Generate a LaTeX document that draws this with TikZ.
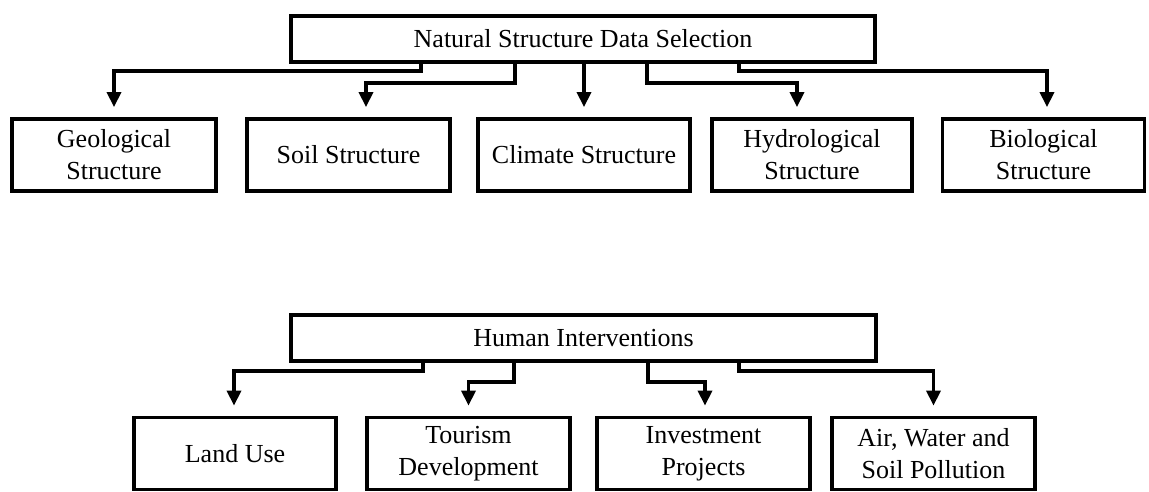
\documentclass[tikz,border=0pt]{standalone}
\usepackage{fontspec}
\setmainfont{Liberation Serif}
\usetikzlibrary{arrows.meta}
\begin{document}
\begin{tikzpicture}[x=1pt,y=-1pt,
  box/.style={draw=black, line width=3.8pt, inner sep=0pt, align=center,
    minimum height=72pt, font=\fontsize{26}{32}\selectfont},
  headbox/.style={box, minimum height=46pt},
  conn/.style={line width=3.5pt, -{Triangle[width=14pt,length=15pt]}, shorten >=10pt}]
\useasboundingbox (0,0) rectangle (1149,492);
% top tree
\node[headbox, minimum width=584pt] (nat) at (583,39) {Natural Structure Data Selection};
\node[box, minimum width=204pt] (geo) at (114,155) {Geological\\Structure};
\node[box, minimum width=203pt] (soil) at (348.5,155) {Soil Structure};
\node[box, minimum width=212pt] (cli) at (584,155) {Climate Structure};
\node[box, minimum width=200pt] (hyd) at (812,155) {Hydrological\\Structure};
\node[box, minimum width=202pt] (bio) at (1043.5,155) {Biological\\Structure};
\draw[conn] ([xshift=-162pt]nat.south) -- ++(0,7) -| (geo.north);
\draw[conn] ([xshift=-68pt]nat.south) -- ++(0,19) -| ([xshift=17.5pt]soil.north);
\draw[conn] (nat.south -| cli.north) -- (cli.north);
\draw[conn] ([xshift=64pt]nat.south) -- ++(0,19) -| ([xshift=-15pt]hyd.north);
\draw[conn] ([xshift=156pt]nat.south) -- ++(0,7) -| ([xshift=3.5pt]bio.north);
% bottom tree
\node[headbox, minimum width=585pt] (hum) at (583.5,338) {Human Interventions};
\node[box, minimum width=202pt] (land) at (235,453.5) {Land Use};
\node[box, minimum width=203pt] (tour) at (468.5,453.5) {Tourism\\Development};
\node[box, minimum width=213pt] (inv) at (703.5,453.5) {Investment\\Projects};
\node[box, minimum width=203pt] (air) at (933.5,453.5) {Air, Water and\\Soil Pollution};
\draw[conn] ([xshift=-160.5pt]hum.south) -- ++(0,8) -| ([xshift=-1pt]land.north);
\draw[conn] ([xshift=-69.5pt]hum.south) -- ++(0,19) -| (tour.north);
\draw[conn] ([xshift=64.5pt]hum.south) -- ++(0,19) -| ([xshift=1.5pt]inv.north);
\draw[conn] ([xshift=155.5pt]hum.south) -- ++(0,8) -| (air.north);
\end{tikzpicture}
\end{document}
